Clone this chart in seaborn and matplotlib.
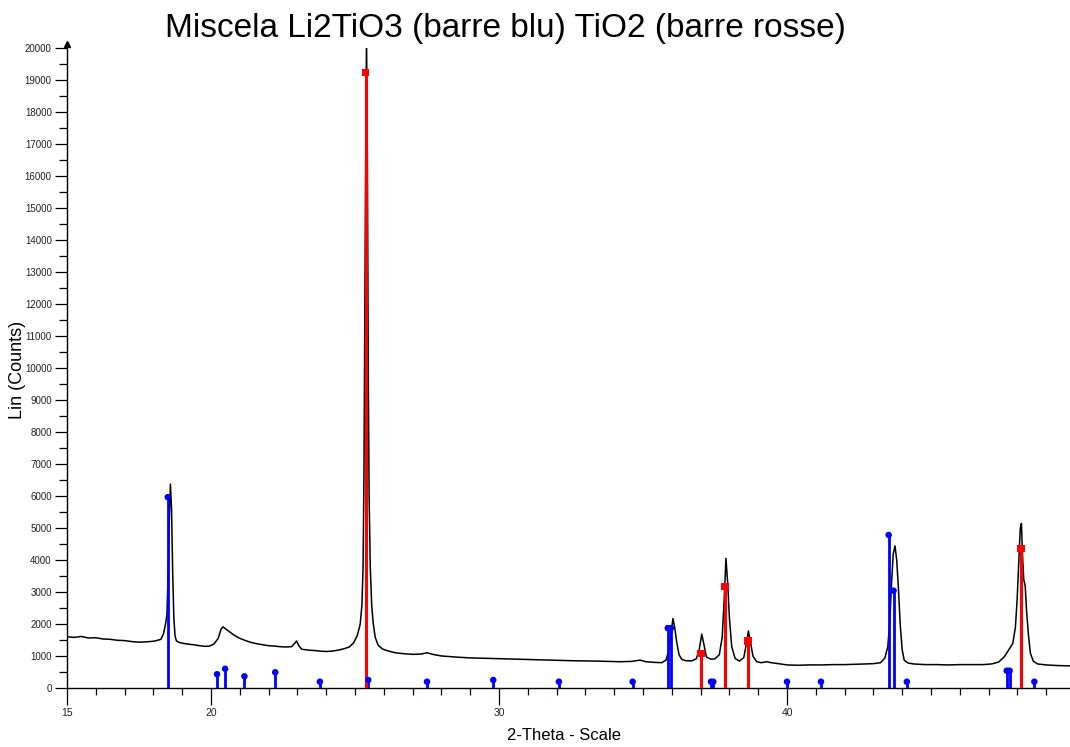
import matplotlib
matplotlib.use("Agg")
import matplotlib.pyplot as plt
import seaborn as sns
import pandas as pd
from matplotlib.ticker import MultipleLocator

# Diffractogram: 2-theta (deg) and counts
two_theta = [
    15.00, 15.25, 15.50, 15.75, 16.00, 16.25, 16.50, 16.75, 17.00, 17.25,
    17.50, 17.75, 18.00, 18.15, 18.26, 18.35, 18.42, 18.47, 18.51, 18.55,
    18.59, 18.63, 18.67, 18.71, 18.75, 18.80, 18.90, 19.00, 19.20, 19.40,
    19.60, 19.80, 19.95, 20.10, 20.25, 20.35, 20.42, 20.50, 20.65, 20.80,
    21.00, 21.20, 21.40, 21.60, 21.80, 22.00, 22.20, 22.40, 22.60, 22.80,
    22.92, 22.97, 23.05, 23.15, 23.40, 23.60, 23.80, 24.00, 24.20, 24.40,
    24.60, 24.80, 24.95, 25.08, 25.18, 25.24, 25.28, 25.31, 25.34, 25.37,
    25.40, 25.43, 25.46, 25.49, 25.53, 25.58, 25.63, 25.70, 25.80, 25.95,
    26.10, 26.40, 26.70, 27.00, 27.30, 27.50, 27.70, 28.00, 28.30, 28.60,
    29.00, 29.40, 29.80, 30.20, 30.60, 31.00, 31.40, 31.80, 32.20, 32.60,
    33.00, 33.40, 33.80, 34.20, 34.60, 34.90, 35.10, 35.40, 35.65, 35.80,
    35.90, 35.97, 36.04, 36.10, 36.17, 36.25, 36.35, 36.50, 36.70, 36.85,
    36.95, 37.04, 37.12, 37.20, 37.35, 37.50, 37.65, 37.75, 37.82, 37.88,
    37.94, 38.00, 38.08, 38.20, 38.35, 38.50, 38.58, 38.66, 38.73, 38.82,
    38.95, 39.10, 39.30, 39.45, 39.70, 40.00, 40.40, 40.80, 41.20, 41.60,
    42.00, 42.40, 42.70, 43.00, 43.25, 43.40, 43.50, 43.57, 43.63, 43.69,
    43.75, 43.81, 43.87, 43.93, 44.00, 44.07, 44.20, 44.40, 44.80, 45.20,
    45.60, 46.00, 46.40, 46.80, 47.10, 47.35, 47.55, 47.70, 47.84, 47.93,
    47.99, 48.05, 48.10, 48.14, 48.18, 48.22, 48.27, 48.32, 48.38, 48.45,
    48.55, 48.70, 49.00, 49.40, 49.86,
]
counts = [
    1610, 1590, 1620, 1570, 1580, 1540, 1530, 1500, 1490, 1460,
    1440, 1450, 1470, 1500, 1530, 1700, 2000, 2300, 3500, 5200,
    6380, 5600, 3600, 2200, 1650, 1480, 1430, 1410, 1380, 1360,
    1330, 1310, 1320, 1380, 1560, 1850, 1920, 1860, 1760, 1660,
    1560, 1490, 1430, 1390, 1360, 1330, 1320, 1300, 1290, 1300,
    1420, 1480, 1330, 1220, 1190, 1180, 1160, 1150, 1160, 1190,
    1230, 1290, 1420, 1650, 2000, 2600, 3800, 6500, 11500, 16500,
    20400, 16500, 10000, 6000, 3800, 2600, 2050, 1600, 1350, 1230,
    1180, 1110, 1080, 1060, 1070, 1110, 1060, 1010, 990, 970,
    950, 940, 930, 920, 910, 900, 890, 880, 870, 860,
    855, 850, 840, 830, 840, 880, 830, 810, 800, 880,
    1200, 1700, 2180, 1900, 1450, 1050, 900, 860, 860, 920,
    1200, 1690, 1350, 980, 910, 920, 1050, 1600, 2800, 4060,
    3300, 2200, 1300, 930, 850, 960, 1350, 1790, 1450, 1000,
    830, 800, 830, 800, 770, 730, 720, 730, 730, 740,
    740, 750, 760, 770, 800, 950, 1300, 2100, 3300, 4200,
    4450, 4000, 3100, 2000, 1200, 880, 790, 760, 740, 740,
    730, 740, 740, 740, 760, 820, 990, 1200, 1400, 1900,
    2760, 4000, 5000, 5150, 4100, 3400, 3200, 2400, 1700, 1100,
    850, 760, 730, 710, 700,
]

# Reference lines: Li2TiO3 (blue)
li2tio3_pos = [18.50, 20.21, 20.49, 21.16, 22.23, 23.78, 25.46, 27.50, 29.80,
               32.08, 34.64, 35.86, 35.97, 37.36, 37.44, 40.00, 41.18, 43.53,
               43.70, 44.16, 47.63, 47.73, 48.59]
li2tio3_int = [5970, 440, 610, 375, 500, 206, 260, 206, 260,
               206, 206, 1880, 1880, 206, 206, 206, 206, 4790,
               3050, 206, 550, 550, 206]

# Reference lines: TiO2 (red)
tio2_pos = [25.37, 37.01, 37.85, 38.65, 48.13]
tio2_int = [19240, 1080, 3185, 1477, 4360]

x_ticks = [15, 20, 30, 40, 50]

sns.set_theme(style="ticks")
plt.rcParams['font.family'] = ['Liberation Sans', 'DejaVu Sans']

fig = plt.figure(figsize=(10.7, 7.47), dpi=100)
ax = fig.add_axes([67 / 1070, 58.7 / 747, 1008 / 1070, 640.3 / 747])

spec = pd.DataFrame({"two_theta": two_theta, "counts": counts})
sns.lineplot(data=spec, x="two_theta", y="counts", color="black", lw=1.1,
             estimator=None, sort=False, ax=ax, zorder=2)

ax.vlines(li2tio3_pos, 0, li2tio3_int, color="#0000ff", lw=2.0, zorder=3)
sns.scatterplot(x=li2tio3_pos, y=li2tio3_int, marker="o", s=22, color="#0000ff",
                edgecolor="none", ax=ax, zorder=4)

ax.vlines(tio2_pos, 0, tio2_int, color="#ff0000", lw=2.2, zorder=3)
sns.scatterplot(x=tio2_pos, y=tio2_int, marker="s", s=28, color="#ff0000",
                edgecolor="none", ax=ax, zorder=4)

ax.set_xlim(15, 50)
ax.set_ylim(0, 20000)
ax.set_xticks(x_ticks)
ax.xaxis.set_minor_locator(MultipleLocator(1))
ax.yaxis.set_major_locator(MultipleLocator(1000))
ax.yaxis.set_minor_locator(MultipleLocator(500))
ax.tick_params(axis="x", which="major", length=12, width=0.9, pad=2,
               labelsize=7.5, colors="black", labelcolor="#222222")
ax.tick_params(axis="x", which="minor", length=5, width=0.9, colors="black")
ax.tick_params(axis="y", which="major", length=9, width=0.9, pad=2,
               labelsize=7, colors="black", labelcolor="#222222")
ax.tick_params(axis="y", which="minor", length=6, width=0.9, colors="black")
ax.set_xlabel("")
ax.set_ylabel("")

sns.despine(ax=ax)
for side in ("left", "bottom"):
    ax.spines[side].set_linewidth(1.0)
    ax.spines[side].set_color("black")

# arrow head on the y axis
ax.plot([15], [20120], marker="^", ms=5, color="black", clip_on=False,
        transform=ax.transData, zorder=5)

fig.text(505 / 1070, 1 - 28 / 747, "Miscela Li2TiO3 (barre blu) TiO2 (barre rosse)",
         ha="center", va="center", fontsize=24, color="black")
fig.text(18 / 1070, 1 - 370 / 747, "Lin (Counts)", rotation=90,
         ha="center", va="center", fontsize=13, color="black")
fig.text(564 / 1070, 1 - 736 / 747, "2-Theta - Scale",
         ha="center", va="center", fontsize=12, color="black")

fig.savefig("out.png", dpi=100)
